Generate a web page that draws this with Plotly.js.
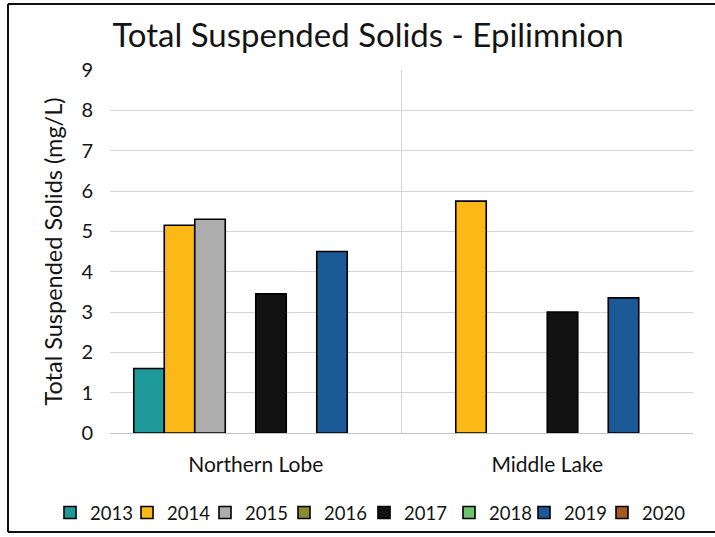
<!DOCTYPE html>
<html>
<head>
<meta charset="utf-8">
<script src="https://cdn.plot.ly/plotly-3.0.1.min.js"></script>
<style>
  html, body { margin: 0; padding: 0; background: #ffffff; }
  #chart { width: 715px; height: 537px; }
</style>
</head>
<body>
<div id="chart"></div>
<script>
// Sampling sites
const categories = ['Northern Lobe', 'Middle Lake'];

// Total suspended solids (mg/L) per year, one entry per site
const years = ['2013', '2014', '2015', '2016', '2017', '2018', '2019', '2020'];
const tss2013 = [1.6, null];
const tss2014 = [5.15, 5.75];
const tss2015 = [5.3, null];
const tss2016 = [null, null];
const tss2017 = [3.45, 3.0];
const tss2018 = [null, null];
const tss2019 = [4.5, 3.35];
const tss2020 = [null, null];

// Y-axis tick values
const yTicks = [0, 1, 2, 3, 4, 5, 6, 7, 8, 9];

const seriesValues = [tss2013, tss2014, tss2015, tss2016, tss2017, tss2018, tss2019, tss2020];
const seriesColors = ['#1f9a9a', '#fbb817', '#adadad', '#8c8a2c', '#121212', '#6cc46c', '#1b5a96', '#a65a1e'];

const FONT = 'Lato, "Open Sans", sans-serif';

// One single-entry legend per year so the legend row keeps a fixed spacing
const legendIds = years.map((_, i) => (i === 0 ? 'legend' : 'legend' + (i + 1)));
const legendLeftPx = [50, 127, 205, 284, 364, 449, 524, 602];

const traces = years.map((yr, i) => ({
  type: 'bar',
  name: yr,
  x: categories,
  y: seriesValues[i],
  legend: legendIds[i],
  marker: { color: seriesColors[i], line: { color: '#000000', width: 1.6 } },
  hoverinfo: 'x+y+name'
}));

// Plot area: x 110..693, y 70..433 (px)
const W = 715, H = 537;
const L = 110, R = 22, T = 70, B = 104;
const pw = W - L - R, ph = H - T - B;
const px = v => (v - L) / pw;
const py = v => (H - B - v) / ph;

const layout = {
  width: W,
  height: H,
  margin: { l: L, r: R, t: T, b: B },
  paper_bgcolor: '#ffffff',
  plot_bgcolor: '#ffffff',
  font: { family: FONT, color: '#141414', size: 18 },
  title: {
    text: 'Total Suspended Solids - Epilimnion',
    font: { family: FONT, size: 33, color: '#141414' },
    x: 368 / W,
    xanchor: 'center',
    xref: 'container',
    y: 1 - 35 / H,
    yanchor: 'middle',
    yref: 'container'
  },
  barmode: 'group',
  bargap: 0.163,
  bargroupgap: 0,
  xaxis: {
    type: 'category',
    tickson: 'boundaries',
    showgrid: true,
    gridcolor: '#d4d4d4',
    gridwidth: 1,
    showline: true,
    linecolor: '#c4c4c4',
    linewidth: 1,
    ticks: '',
    ticklabelstandoff: 13,
    tickfont: { family: FONT, size: 21, color: '#141414' },
    fixedrange: true
  },
  yaxis: {
    range: [0, 9],
    tickvals: yTicks,
    ticktext: yTicks.map(String),
    showgrid: true,
    gridcolor: '#d4d4d4',
    gridwidth: 1,
    zeroline: false,
    showline: false,
    ticks: '',
    ticklabelstandoff: 16,
    tickfont: { family: FONT, size: 20, color: '#141414' },
    title: {
      text: 'Total Suspended Solids (mg/L)',
      font: { family: FONT, size: 23.5, color: '#141414' },
      standoff: 12
    },
    automargin: false,
    fixedrange: true
  },
  showlegend: true,
  shapes: [
    // chart frame (left, top, bottom edges)
    { type: 'line', xref: 'paper', yref: 'paper', x0: px(8), x1: px(8), y0: py(4), y1: py(532), line: { color: '#111111', width: 2 } },
    { type: 'line', xref: 'paper', yref: 'paper', x0: px(8), x1: px(720), y0: py(4), y1: py(4), line: { color: '#111111', width: 2 } },
    { type: 'line', xref: 'paper', yref: 'paper', x0: px(8), x1: px(720), y0: py(532), y1: py(532), line: { color: '#111111', width: 2 } }
  ]
};

legendIds.forEach((id, i) => {
  layout[id] = {
    orientation: 'h',
    xref: 'container',
    yref: 'container',
    x: legendLeftPx[i] / W,
    xanchor: 'left',
    y: 1 - 513 / H,
    yanchor: 'middle',
    itemwidth: 30,
    font: { family: FONT, size: 18.5, color: '#141414' },
    bgcolor: 'rgba(0,0,0,0)'
  };
});

Plotly.newPlot('chart', traces, layout, { displayModeBar: false, staticPlot: true });
</script>
</body>
</html>
